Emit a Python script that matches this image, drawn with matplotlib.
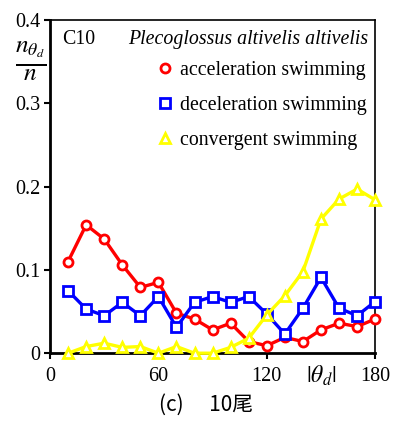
import matplotlib
matplotlib.use("Agg")
import matplotlib.pyplot as plt
from matplotlib.lines import Line2D

plt.rcParams['font.family'] = ['Liberation Serif', 'DejaVu Serif']
plt.rcParams['mathtext.fontset'] = 'stix'

theta = [10, 20, 30, 40, 50, 60, 70, 80, 90, 100, 110, 120, 130, 140, 150, 160, 170, 180]
accel = [0.110, 0.154, 0.137, 0.106, 0.079, 0.085, 0.048, 0.041, 0.028, 0.036,
         0.014, 0.009, 0.019, 0.014, 0.028, 0.036, 0.032, 0.041]
decel = [0.075, 0.053, 0.045, 0.061, 0.045, 0.068, 0.031, 0.061, 0.068, 0.061,
         0.068, 0.047, 0.023, 0.054, 0.091, 0.054, 0.045, 0.062]
conv = [0.000, 0.008, 0.012, 0.007, 0.008, 0.000, 0.008, 0.000, 0.000, 0.007,
        0.018, 0.046, 0.069, 0.098, 0.161, 0.185, 0.197, 0.184]

labels = ["acceleration swimming", "deceleration swimming", "convergent swimming"]
colors = ["#ff0000", "#0000ff", "#ffff00"]
markers = ["o", "s", "^"]
xticks = [0, 60, 120, 180]
yticks = [0, 0.1, 0.2, 0.3, 0.4]
yticklabels = ["0", "0.1", "0.2", "0.3", "0.4"]

fig = plt.figure(figsize=(3.97, 4.23), dpi=100)
ax = fig.add_axes([0.126, 0.165, 0.819, 0.788])

for ys, c, m in zip([accel, decel, conv], colors, markers):
    ax.plot(theta, ys, color=c, lw=2.4, marker=m, ms=6.5, mfc="white",
            mec=c, mew=2, clip_on=False, zorder=3)

ax.set_xlim(0, 180)
ax.set_ylim(0, 0.4)
ax.set_xticks(xticks)
ax.set_yticks(yticks)
ax.set_yticklabels(yticklabels)
ax.tick_params(labelsize=14.5, direction="out", length=4, width=1.5, pad=3)
ax.tick_params(axis="x", pad=6)
for s in ["left", "bottom"]:
    ax.spines[s].set_linewidth(2)
for s in ["top", "right"]:
    ax.spines[s].set_linewidth(1.2)

ax.text(150, -0.013, r"$|\theta_d|$", ha="center", va="top", fontsize=17)
fig.text(0.076, 0.855, r"$\frac{n_{\theta_d}}{n}$", ha="center", va="center", fontsize=26)

ax.text(6.5, 0.377, "C10", ha="left", va="center", fontsize=14.3)
ax.text(176, 0.377, "Plecoglossus altivelis altivelis", ha="right", va="center",
        fontsize=14.3, style="italic")

handles = [Line2D([], [], ls="none", marker=m, ms=6.5, mfc="white", mec=c, mew=2)
           for c, m in zip(colors, markers)]
ax.legend(handles, labels, loc="upper right", bbox_to_anchor=(1.0, 0.90),
          frameon=False, fontsize=14.3, handlelength=0.6, handletextpad=0.5,
          labelspacing=0.8, borderaxespad=0.0)

fig.text(0.52, 0.043, "(c)\u3000 10尾", ha="center", va="center", fontsize=15,
         family=["Noto Sans CJK JP", "DejaVu Sans"])

fig.savefig("out.png", dpi=100)
